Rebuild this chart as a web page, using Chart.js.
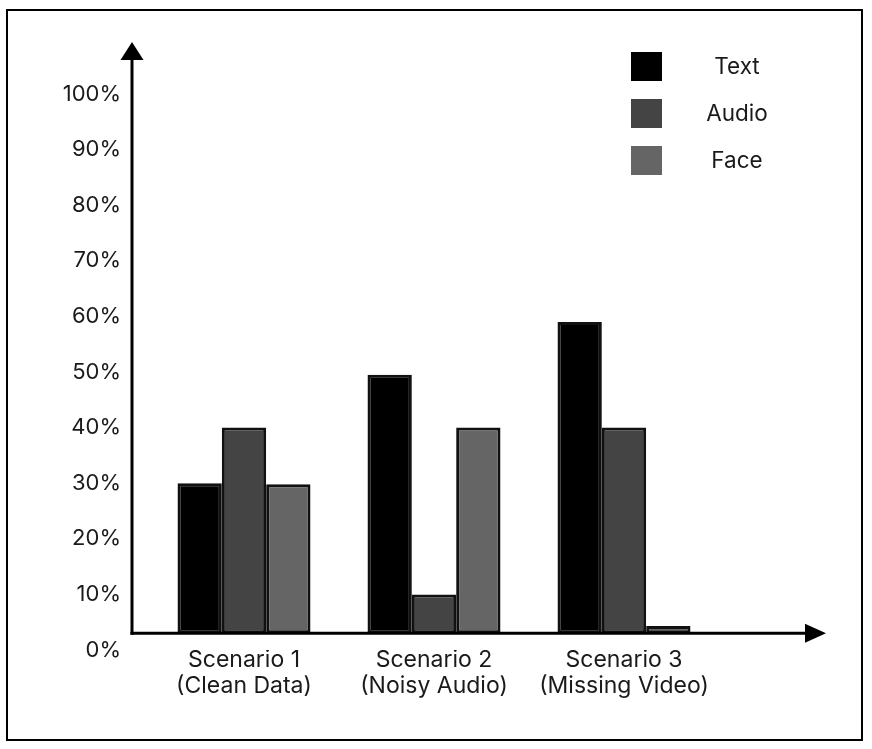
<!DOCTYPE html>
<html>
<head>
<meta charset="utf-8">
<script src="https://cdn.jsdelivr.net/npm/chart.js@4.4.0/dist/chart.umd.min.js"></script>
<style>
  html, body { margin: 0; padding: 0; background: #fff; }
  #chart { display: block; }
</style>
</head>
<body>
<canvas id="chart" width="872" height="749"></canvas>
<script>
// data
const categories = [['Scenario 1', '(Clean Data)'], ['Scenario 2', '(Noisy Audio)'], ['Scenario 3', '(Missing Video)']];
const textValues = [30, 49.5, 59];
const audioValues = [40, 10, 40];
const faceValues = [29.8, 40, 4.3];
const seriesNames = ['Text', 'Audio', 'Face'];
const seriesColors = ['#000000', '#444444', '#656565'];
const axisBase = 3; // the drawn x axis sits a little above the 0% label

const FONT = 'Inter, "Noto Sans", sans-serif';

// frame, arrows, legend
const decor = {
    id: 'decor',
    beforeDraw(chart) {
        const ctx = chart.ctx;
        ctx.save();
        ctx.fillStyle = '#fff';
        ctx.fillRect(0, 0, chart.width, chart.height);
        ctx.strokeStyle = '#000';
        ctx.lineWidth = 2;
        ctx.strokeRect(7, 10, 855, 730);
        ctx.restore();
    },
    afterDatasetsDraw(chart) {
        const ctx = chart.ctx;
        const y0 = chart.scales.y.getPixelForValue(axisBase);
        const xAxis = 132;
        ctx.save();
        ctx.strokeStyle = '#000';
        ctx.fillStyle = '#000';
        ctx.lineWidth = 3;
        // y axis
        ctx.beginPath();
        ctx.moveTo(xAxis, y0 + 1.5);
        ctx.lineTo(xAxis, 58);
        ctx.stroke();
        ctx.beginPath();
        ctx.moveTo(xAxis, 42);
        ctx.lineTo(xAxis + 11.5, 60);
        ctx.lineTo(xAxis - 11.5, 60);
        ctx.closePath();
        ctx.fill();
        // x axis
        ctx.beginPath();
        ctx.moveTo(xAxis - 1.5, y0);
        ctx.lineTo(808, y0);
        ctx.stroke();
        ctx.beginPath();
        ctx.moveTo(826, y0);
        ctx.lineTo(805, y0 - 9.5);
        ctx.lineTo(805, y0 + 9.5);
        ctx.closePath();
        ctx.fill();

        // legend
        const ds = chart.data.datasets;
        ctx.font = '22.5px ' + FONT;
        ctx.textAlign = 'center';
        ctx.textBaseline = 'middle';
        ds.forEach(function(d, i) {
            const top = 52 + i * 47;
            ctx.fillStyle = d.backgroundColor;
            ctx.fillRect(631, top, 31, 29);
            ctx.fillStyle = '#1a1a1a';
            ctx.fillText(d.label, 737, top + 15);
        });
        ctx.restore();
    }
};

const ctx = document.getElementById('chart').getContext('2d');
const chart = new Chart(ctx, {
    type: 'bar',
    data: {
        labels: categories,
        datasets: [
            { label: seriesNames[0], data: textValues, backgroundColor: seriesColors[0] },
            { label: seriesNames[1], data: audioValues, backgroundColor: seriesColors[1] },
            { label: seriesNames[2], data: faceValues, backgroundColor: seriesColors[2] }
        ]
    },
    options: {
        responsive: false,
        animation: false,
        events: [],
        layout: { padding: { left: 0, right: 153, top: 94, bottom: 0 } },
        datasets: {
            bar: {
                base: axisBase,
                borderColor: '#111',
                borderWidth: 3,
                borderSkipped: false,
                categoryPercentage: 0.7,
                barPercentage: 1.0
            }
        },
        plugins: {
            legend: { display: false },
            tooltip: { enabled: false }
        },
        scales: {
            x: {
                afterFit: function(scale) { scale.height = 99; },
                grid: { display: false, drawTicks: false },
                border: { display: false },
                ticks: {
                    color: '#1a1a1a',
                    padding: -3,
                    font: { family: FONT, size: 23, lineHeight: 1.12 }
                }
            },
            y: {
                min: 0,
                max: 100,
                afterFit: function(scale) { scale.width = 149; },
                grid: { display: false, drawTicks: false },
                border: { display: false },
                ticks: {
                    stepSize: 10,
                    padding: 28,
                    color: '#1a1a1a',
                    font: { family: FONT, size: 22 },
                    callback: function(v) { return v + '%'; }
                }
            }
        }
    },
    plugins: [decor]
});
</script>
</body>
</html>
